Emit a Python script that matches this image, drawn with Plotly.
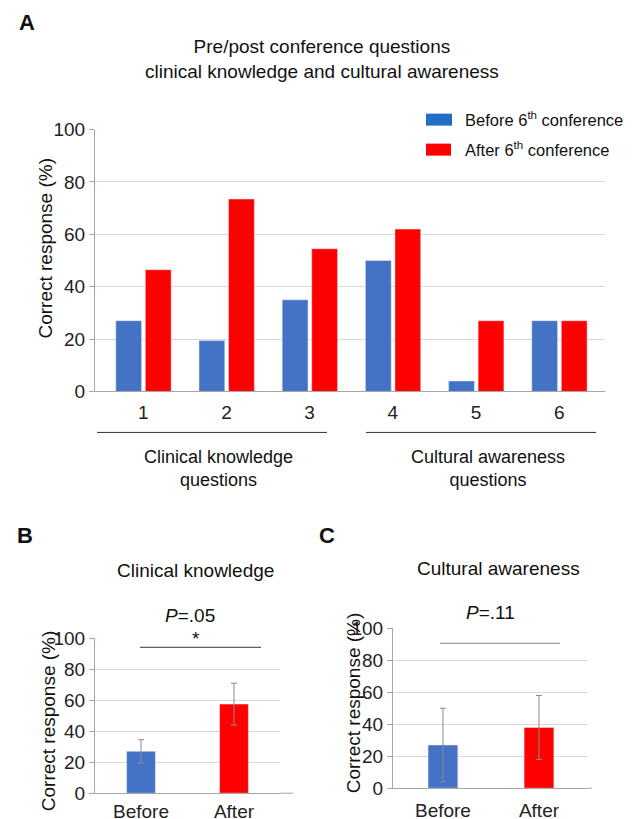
import plotly.graph_objects as go

# ---------------- data ----------------
questions = ["1", "2", "3", "4", "5", "6"]
before_pct = [27, 19.5, 35, 50, 4, 27]
after_pct = [46.5, 73.5, 54.5, 62, 27, 27]
group_labels = ["Clinical knowledge<br>questions", "Cultural awareness<br>questions"]

timepoints = ["Before", "After"]
clinical_mean = [27, 57.5]
clinical_err = [7.5, 13.5]
cultural_mean = [27, 38]
cultural_err = [23, 20]

y_ticks = [0, 20, 40, 60, 80, 100]

# ---------------- style ----------------
W, H = 635, 819
OFF = 8  # page body margin of the default html wrapper
BLUE = "#4472C4"
RED = "#FF0000"
LEG_BLUE = "#1F6FC5"
FONT = "Liberation Sans, Arial, sans-serif"
GRID = "#d9d9d9"
AXIS = "#a6a6a6"


def px(x):
    return (x - OFF) / W


def py(y):
    # map target picture row to paper coordinate (compensates page offset/scale seen in renders)
    ys = (y - 9.5) / 0.975
    return 1 - (ys - OFF) / H


fig = go.Figure()

# Panel A
fig.add_trace(go.Bar(x=questions, y=before_pct, marker_color=BLUE, width=0.31, offset=-0.33,
                     xaxis="x", yaxis="y", name="Before"))
fig.add_trace(go.Bar(x=questions, y=after_pct, marker_color=RED, width=0.31, offset=0.025,
                     xaxis="x", yaxis="y", name="After"))

err_style = dict(type="data", color="#8c8c8c", thickness=1, width=3)
# Panel B
fig.add_trace(go.Bar(x=timepoints, y=clinical_mean, marker_color=[BLUE, RED], width=0.31,
                     error_y=dict(array=clinical_err, **err_style), xaxis="x2", yaxis="y2"))
# Panel C
fig.add_trace(go.Bar(x=timepoints, y=cultural_mean, marker_color=[BLUE, RED], width=0.31,
                     error_y=dict(array=cultural_err, **err_style), xaxis="x3", yaxis="y3"))

tickfont = dict(family=FONT, size=19, color="#222")


def yax(domain, anchor):
    return dict(domain=domain, range=[0, 100], tickvals=y_ticks, showgrid=True, gridcolor=GRID,
                gridwidth=1, showline=True, linecolor=AXIS, linewidth=1, ticks="outside",
                ticklen=5, tickcolor=AXIS, tickfont=tickfont, zeroline=False, anchor=anchor,
                fixedrange=True)


def xax(domain, rng, anchor, ticklen):
    return dict(domain=domain, range=rng, type="category", showgrid=False, showline=True,
                linecolor=AXIS, linewidth=1, ticks="outside", ticklen=ticklen,
                tickcolor="rgba(0,0,0,0)", tickfont=tickfont, anchor=anchor, fixedrange=True)


fig.update_layout(
    width=W, height=H, margin=dict(l=0, r=0, t=0, b=0),
    paper_bgcolor="white", plot_bgcolor="white", showlegend=False,
    barmode="overlay",
    font=dict(family=FONT, color="#222"),
    xaxis=xax([px(95), px(605)], [-0.58, 5.55], "y", 4),
    yaxis=yax([py(391), py(129)], "x"),
    xaxis2=xax([px(95), px(280)], [-0.495, 1.495], "y2", 1),
    yaxis2=yax([py(793), py(638)], "x2"),
    xaxis3=xax([px(393), px(587)], [-0.52, 1.5], "y3", 5),
    yaxis3=yax([py(788), py(628)], "x3"),
)

shapes = []


def hline(x0, x1, y, color="#333", width=1):
    shapes.append(dict(type="line", xref="paper", yref="paper", x0=px(x0), x1=px(x1),
                       y0=py(y), y1=py(y), line=dict(color=color, width=width)))


# group underlines panel A
hline(97, 327, 432)
hline(366, 596, 432)
# axis extensions B and C
hline(280, 293, 793, AXIS)
hline(587, 592, 788, AXIS)
# significance lines
hline(140, 261, 647, "#333")
hline(440, 560, 643, "#888")

# legend swatches
for (x0, x1, y0, y1, c) in [(426, 452, 113, 125, LEG_BLUE), (426, 451, 143, 155, RED)]:
    shapes.append(dict(type="rect", xref="paper", yref="paper", x0=px(x0), x1=px(x1),
                       y0=py(y1), y1=py(y0), fillcolor=c, line=dict(width=0)))

fig.update_layout(shapes=shapes)

ann = []


def text(t, x, y, size=19, xanchor="center", angle=0, bold=False):
    if bold:
        t = "<b>" + t + "</b>"
    ann.append(dict(text=t, x=px(x), y=py(y), xref="paper", yref="paper", showarrow=False,
                    xanchor=xanchor, yanchor="middle", textangle=angle,
                    font=dict(family=FONT, size=size, color="#111")))


text("A", 27, 22, 22, bold=True)
text("Pre/post conference questions<br>clinical knowledge and cultural awareness", 322, 58, 19)
text("Before 6<sup>th</sup> conference", 463, 118, 16.5, xanchor="left")
text("After 6<sup>th</sup> conference", 463, 148, 16.5, xanchor="left")
text(group_labels[0], 218, 468, 18)
text(group_labels[1], 488, 468, 18)
text("Correct response (%)", 46, 248, 19, angle=-90)

text("B", 25, 535, 22, bold=True)
text("Clinical knowledge", 195, 570, 19)
text("<i>P</i>=.05", 190, 615, 19)
text("*", 196, 638, 19)
text("Correct response (%)", 48, 721, 19, angle=-90)

text("C", 327, 535, 22, bold=True)
text("Cultural awareness", 498, 568, 19)
text("<i>P</i>=.11", 490, 612, 19)
text("Correct response (%)", 353, 703, 19, angle=-90)

fig.update_layout(annotations=ann)

fig.write_html("out.html", config={"displayModeBar": False})
